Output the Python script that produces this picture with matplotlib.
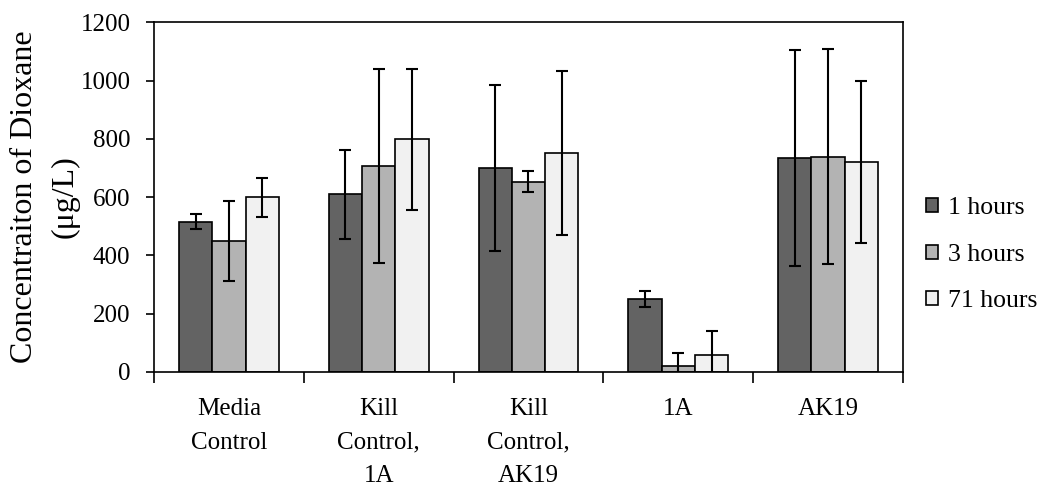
import matplotlib
matplotlib.use("Agg")
import matplotlib.pyplot as plt
import numpy as np

plt.rcParams['font.family'] = ['Liberation Serif', 'DejaVu Serif']

categories = ["Media\nControl", "Kill\nControl,\n1A", "Kill\nControl,\nAK19", "1A", "AK19"]
series_names = ["1 hours", "3 hours", "71 hours"]
hours_1 = [515, 609, 700, 250, 735]
hours_3 = [450, 706, 652, 22, 739]
hours_71 = [599, 798, 751, 59, 721]
err_1 = [26, 152, 284, 27, 371]
err_3 = [137, 333, 36, 42, 368]
err_71 = [68, 243, 281, 82, 278]

colors = ["#636363", "#b3b3b3", "#f1f1f1"]

fig = plt.figure(figsize=(10.38, 4.94), dpi=100)
ax = fig.add_axes([0.1484, 0.247, 0.7215, 0.708])

x = np.arange(len(categories))
w = 0.222
for i, (vals, errs) in enumerate(zip([hours_1, hours_3, hours_71], [err_1, err_3, err_71])):
    ax.bar(x + (i - 1) * w, vals, w, color=colors[i], edgecolor="black",
           linewidth=1.2, label=series_names[i], zorder=2)
    ax.errorbar(x + (i - 1) * w, vals, yerr=errs, fmt="none", ecolor="black",
                elinewidth=1.5, capsize=4.5, capthick=1.5, zorder=3)

ax.set_xlim(-0.5, len(categories) - 0.5)
ax.set_ylim(0, 1200)
ax.set_yticks(np.arange(0, 1201, 200))
ax.tick_params(axis="y", labelsize=18, direction="out", length=6, width=1.2, pad=11)
ax.set_xticks(x)
ax.set_xticklabels(categories, fontsize=18, va="top", linespacing=1.66)
ax.tick_params(axis="x", length=0, pad=19)
ax.set_xticks(np.arange(-0.5, len(categories)), minor=True)
ax.tick_params(axis="x", which="minor", length=8, width=1.2, direction="out")
for s in ax.spines.values():
    s.set_linewidth(1.2)

ax.set_ylabel("Concentraiton of Dioxane\n(\u03bcg/L)", fontsize=23, linespacing=1.48)
ax.yaxis.set_label_coords(-0.1, 0.5)

ax.legend(loc="center left", bbox_to_anchor=(1.031, 0.335), frameon=False,
          fontsize=18.5, handlelength=0.45, handleheight=0.45, handletextpad=0.4,
          labelspacing=0.95, borderpad=0, borderaxespad=0)

fig.savefig("out.png", dpi=100)
